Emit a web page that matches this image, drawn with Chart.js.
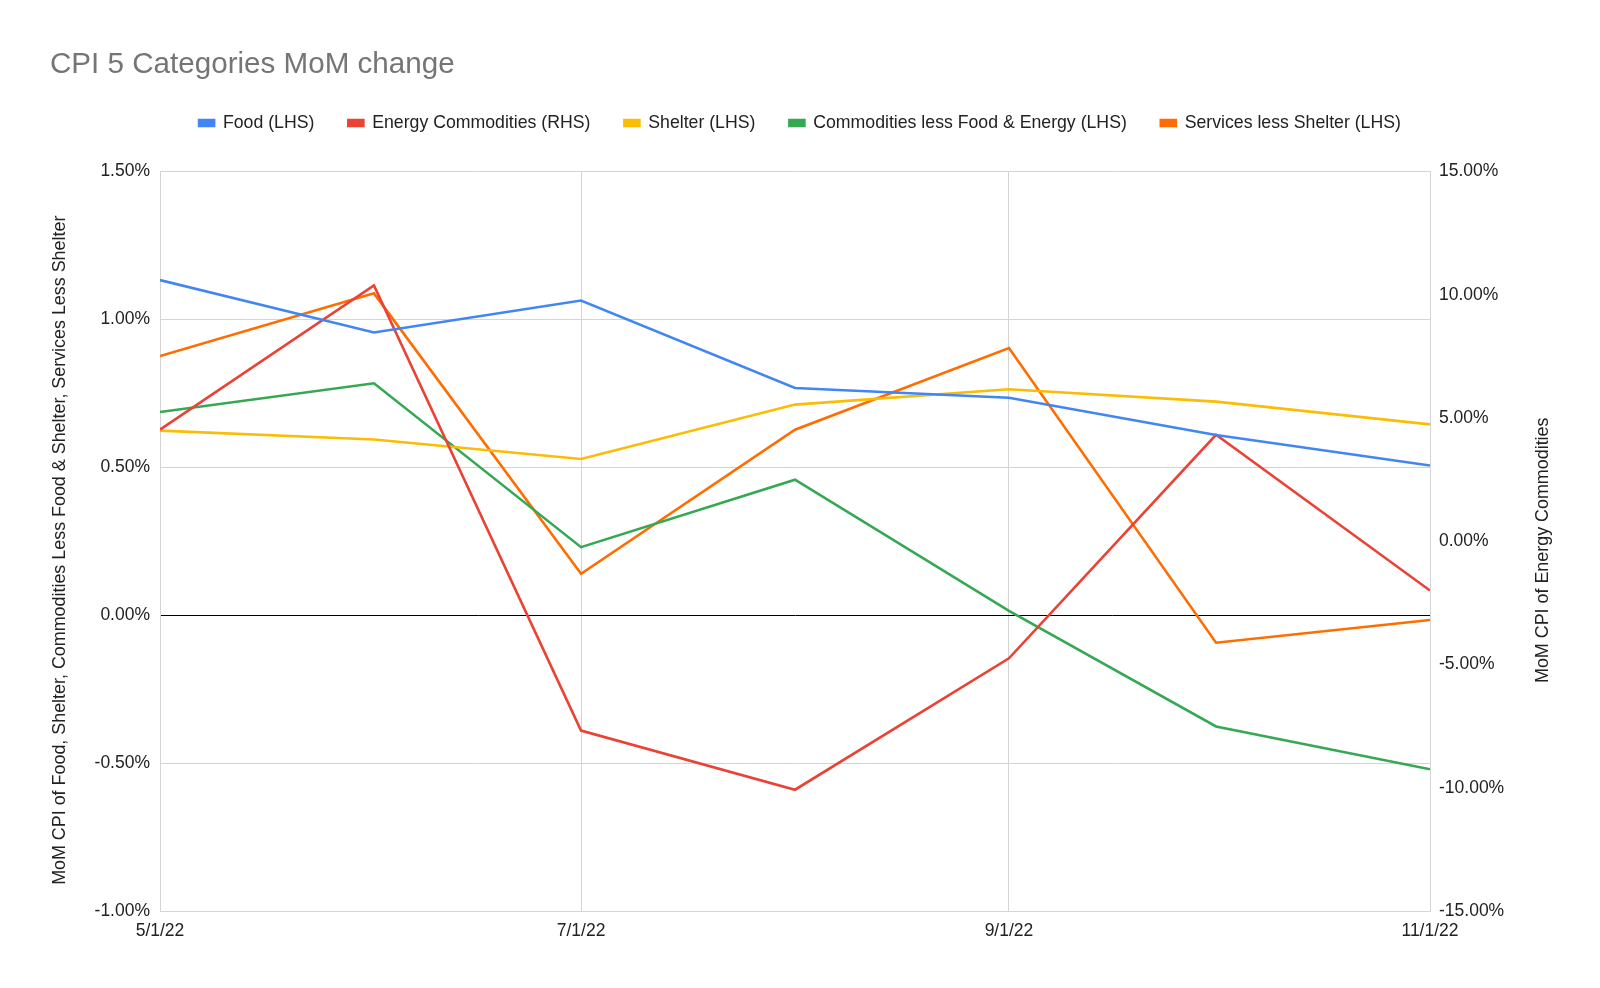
<!DOCTYPE html>
<html>
<head>
<meta charset="utf-8">
<script src="https://cdn.jsdelivr.net/npm/chart.js@4.4.1/dist/chart.umd.min.js"></script>
<style>
  html, body { margin: 0; padding: 0; background: #fff; }
</style>
</head>
<body>
<canvas id="cpi_chart" width="1600" height="988"></canvas>
<script>
// monthly observations
const dates = ['2022-05-01', '2022-06-01', '2022-07-01', '2022-08-01', '2022-09-01', '2022-10-01', '2022-11-01'];

// MoM change, percent (LHS unless noted)
const food = [1.133, 0.956, 1.064, 0.768, 0.735, 0.609, 0.506];
const energy = [4.53, 10.38, -7.68, -10.08, -4.75, 4.32, -2.00];   // RHS
const shelter = [0.624, 0.594, 0.528, 0.712, 0.764, 0.722, 0.645];
const coreGoods = [0.687, 0.784, 0.230, 0.458, 0.015, -0.376, -0.521];
const services = [0.876, 1.088, 0.140, 0.627, 0.903, -0.093, -0.016];

// axis ticks
const xTickDates = ['2022-05-01', '2022-07-01', '2022-09-01', '2022-11-01'];
const xTickLabels = ['5/1/22', '7/1/22', '9/1/22', '11/1/22'];
const leftTicks = [-1, -0.5, 0, 0.5, 1, 1.5];
const rightTicks = [-15, -10, -5, 0, 5, 10, 15];

const leftTitle = 'MoM CPI of Food, Shelter, Commodities Less Food & Shelter, Services Less Shelter';
const rightTitle = 'MoM CPI of Energy Commodities';

const FONT = "'Liberation Sans', Arial, Helvetica, sans-serif";
const TEXT = '#222222';
const GRID = '#d4d4d4';

function dayOffset(d) {
    return (Date.parse(d) - Date.parse(dates[0])) / 86400000;
}

function toPoints(values) {
    return values.map(function (v, i) {
        return { x: dayOffset(dates[i]), y: v };
    });
}

function makeSet(label, values, color, axis) {
    return {
        label: label,
        data: toPoints(values),
        borderColor: color,
        backgroundColor: color,
        borderWidth: 2.6,
        pointRadius: 0,
        tension: 0,
        yAxisID: axis
    };
}

// both axis titles read bottom-to-top, like the sheet chart
const axisTitles = {
    id: 'axisTitles',
    afterDraw: function (chart) {
        const ctx = chart.ctx;
        const a = chart.chartArea;
        const midY = (a.top + a.bottom) / 2 + 9;
        ctx.save();
        ctx.fillStyle = TEXT;
        ctx.font = '17.9px ' + FONT;
        ctx.textAlign = 'center';
        ctx.textBaseline = 'middle';
        [[60, leftTitle], [1543, rightTitle]].forEach(function (t) {
            ctx.save();
            ctx.translate(t[0], midY);
            ctx.rotate(-Math.PI / 2);
            ctx.fillText(t[1], 0, 0);
            ctx.restore();
        });
        ctx.restore();
    }
};

const tickFont = { family: FONT, size: 17.5 };

const config = {
    type: 'line',
    data: {
        datasets: [
            makeSet('Food (LHS)', food, '#4285F4', 'y'),
            makeSet('Energy Commodities (RHS)', energy, '#EA4335', 'y1'),
            makeSet('Shelter (LHS)', shelter, '#FBBC04', 'y'),
            makeSet('Commodities less Food & Energy (LHS)', coreGoods, '#34A853', 'y'),
            makeSet('Services less Shelter (LHS)', services, '#FF6D01', 'y')
        ]
    },
    options: {
        responsive: false,
        animation: false,
        devicePixelRatio: 1,
        layout: { padding: { left: 50, right: 50, top: 0, bottom: 0 } },
        plugins: {
            title: {
                display: true,
                text: 'CPI 5 Categories MoM change',
                align: 'start',
                color: '#757575',
                font: { family: FONT, size: 29.6, weight: 'normal', lineHeight: 1 },
                padding: { top: 50.5, bottom: 0 }
            },
            legend: {
                display: true,
                labels: {
                    color: TEXT,
                    font: { family: FONT, size: 17.7 },
                    boxWidth: 15,
                    boxHeight: 6,
                    padding: 34
                }
            },
            // empty spacer between legend and plot
            subtitle: {
                display: true,
                text: '',
                weight: 500,
                font: { family: FONT, size: 10, lineHeight: 1 },
                padding: { top: 19.7, bottom: 0 }
            },
            tooltip: { enabled: false }
        },
        scales: {
            x: {
                type: 'linear',
                min: 0,
                max: dayOffset(dates[dates.length - 1]),
                afterBuildTicks: function (scale) {
                    scale.ticks = xTickDates.map(function (d) { return { value: dayOffset(d) }; });
                },
                afterFit: function (scale) { scale.height = 77; },
                ticks: {
                    autoSkip: false,
                    maxRotation: 0,
                    padding: 9.5,
                    color: TEXT,
                    font: tickFont,
                    callback: function (value, index) { return xTickLabels[index]; }
                },
                grid: { color: GRID, drawTicks: false },
                border: { display: true, color: GRID }
            },
            y: {
                type: 'linear',
                position: 'left',
                min: leftTicks[0],
                max: leftTicks[leftTicks.length - 1],
                afterBuildTicks: function (scale) {
                    scale.ticks = leftTicks.map(function (v) { return { value: v }; });
                },
                afterFit: function (scale) { scale.width = 110; },
                ticks: {
                    padding: 10,
                    color: TEXT,
                    font: tickFont,
                    callback: function (v) { return v.toFixed(2) + '%'; }
                },
                grid: {
                    drawTicks: false,
                    color: function (ctx) { return ctx.tick && ctx.tick.value === 0 ? '#000000' : GRID; }
                },
                border: { display: true, color: GRID }
            },
            y1: {
                type: 'linear',
                position: 'right',
                min: rightTicks[0],
                max: rightTicks[rightTicks.length - 1],
                afterBuildTicks: function (scale) {
                    scale.ticks = rightTicks.map(function (v) { return { value: v }; });
                },
                afterFit: function (scale) { scale.width = 120; },
                ticks: {
                    padding: 9,
                    color: TEXT,
                    font: tickFont,
                    callback: function (v) { return v.toFixed(2) + '%'; }
                },
                grid: { display: false, drawTicks: false },
                border: { display: true, color: GRID }
            }
        }
    },
    plugins: [axisTitles]
};

new Chart(document.getElementById('cpi_chart').getContext('2d'), config);
</script>
</body>
</html>
